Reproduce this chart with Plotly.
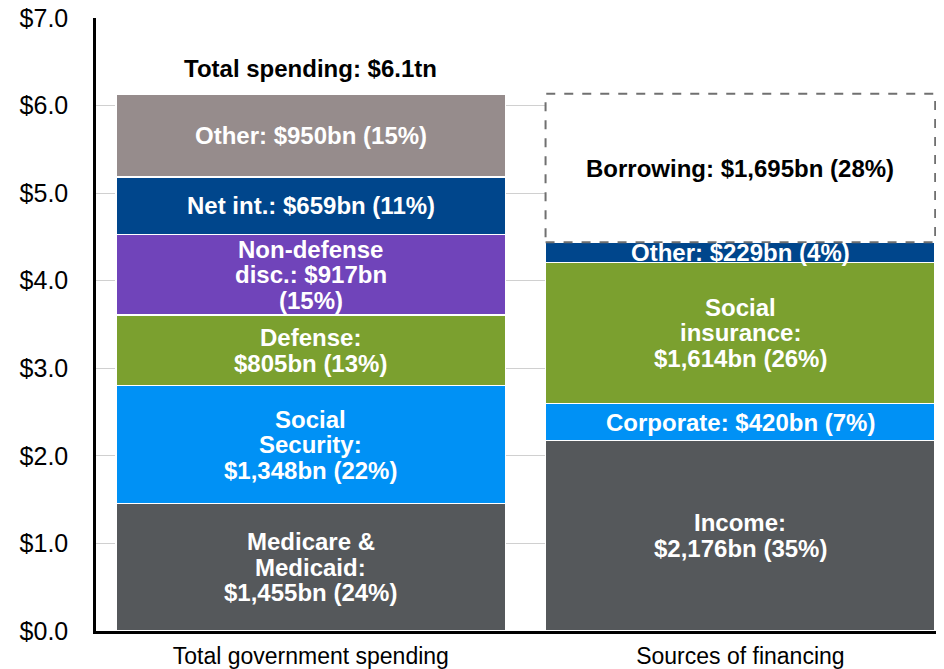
import plotly.graph_objects as go

# ---- data ----
categories = ["Total government spending", "Sources of financing"]

spend_names = ["Medicare & Medicaid", "Social Security", "Defense", "Non-defense disc.", "Net int.", "Other"]
spend_values = [1.455, 1.348, 0.805, 0.917, 0.659, 0.950]
spend_labels = ["Medicare &<br>Medicaid:<br>$1,455bn (24%)",
                "Social<br>Security:<br>$1,348bn (22%)",
                "Defense:<br>$805bn (13%)",
                "Non-defense<br>disc.: $917bn<br>(15%)",
                "Net int.: $659bn (11%)",
                "Other: $950bn (15%)"]
spend_colors = ["#55585b", "#0091f5", "#7ba02f", "#7044ba", "#00468c", "#968c8c"]

fin_names = ["Income", "Corporate", "Social insurance", "Other", "Borrowing"]
fin_values = [2.176, 0.420, 1.614, 0.229, 1.695]
fin_labels = ["Income:<br>$2,176bn (35%)",
              "Corporate: $420bn (7%)",
              "Social<br>insurance:<br>$1,614bn (26%)",
              "Other: $229bn (4%)",
              "Borrowing: $1,695bn (28%)"]
fin_colors = ["#55585b", "#0091f5", "#7ba02f", "#00468c", "#ffffff"]

total_label = "Total spending: $6.1tn"
y_ticks = [0, 1, 2, 3, 4, 5, 6, 7]
y_ticktext = ["$%.1f" % v for v in y_ticks]

BAR_W = 0.907
FONT = "Liberation Sans, Arial, sans-serif"
LABEL_SIZE = 24
LINE_PITCH = 25.5

fig = go.Figure()
annotations = []

def add_stack(xpos, names, values, labels, colors, label_colors):
    cum = 0.0
    for n, v, lab, c, lc in zip(names, values, labels, colors, label_colors):
        fig.add_trace(go.Bar(
            x=[xpos], y=[v], name=n, width=BAR_W,
            marker=dict(color=c, line=dict(color="white", width=1.5 if c != "#ffffff" else 0)),
            hoverinfo="name+y", showlegend=False))
        lines = lab.split("<br>")
        nl = len(lines)
        for i, ln in enumerate(lines):
            annotations.append(dict(x=xpos, y=cum + v / 2, xref="x", yref="y",
                                    yshift=((nl - 1) / 2 - i) * LINE_PITCH,
                                    text="<b>%s</b>" % ln, showarrow=False,
                                    font=dict(family=FONT, size=LABEL_SIZE, color=lc)))
        cum += v
    return cum

tot_spend = add_stack(0, spend_names, spend_values, spend_labels, spend_colors, ["white"] * 6)
fin_cum_before_borrow = sum(fin_values[:-1])
tot_fin = add_stack(1, fin_names, fin_values, fin_labels, fin_colors, ["white"] * 4 + ["black"])

annotations.append(dict(x=0, y=tot_spend, xref="x", yref="y", yshift=25, text="<b>%s</b>" % total_label,
                        showarrow=False, font=dict(family=FONT, size=24, color="black")))

fig.add_shape(type="rect", xref="x", yref="y",
              x0=1 - BAR_W / 2, x1=1 + BAR_W / 2, y0=fin_cum_before_borrow, y1=tot_fin,
              line=dict(color="#707070", width=2, dash="dash"), fillcolor="rgba(0,0,0,0)")

fig.update_layout(
    barmode="stack",
    width=936, height=661,
    margin=dict(l=88, r=0, t=10, b=38),
    plot_bgcolor="white", paper_bgcolor="white",
    annotations=annotations,
    font=dict(family=FONT, color="black"),
    xaxis=dict(range=[-0.5, 1.474], tickvals=[0, 1], ticktext=categories,
               tickfont=dict(family=FONT, size=23, color="black"),
               showline=True, linecolor="black", linewidth=2.5, showgrid=False,
               ticks="", ticklabelstandoff=3, zeroline=False, automargin=False,
               ticklabeloverflow="allow"),
    yaxis=dict(range=[0, 7], tickvals=y_ticks, ticktext=y_ticktext,
               tickfont=dict(family=FONT, size=25, color="black"),
               showline=True, linecolor="black", linewidth=2.5,
               showgrid=True, gridcolor="#d0d0d0", gridwidth=1,
               ticks="", ticklabelstandoff=20, zeroline=False, automargin=False,
               ticklabeloverflow="allow"),
)

fig.write_html("out.html")
